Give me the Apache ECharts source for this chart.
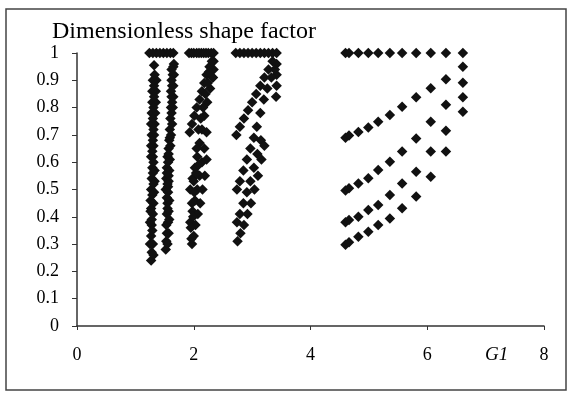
<!DOCTYPE html>
<html>
<head>
<meta charset="utf-8">
<script src="https://cdn.jsdelivr.net/npm/echarts@6/dist/echarts.min.js"></script>
<style>
html,body{margin:0;padding:0;background:#fff;}
#chart{width:572px;height:395px;}
</style>
</head>
<body>
<div id="chart"></div>
<script>
// ---- tick labels ----
const xTicks = [0, 2, 4, 6, 8];
const yTicks = [0, 0.1, 0.2, 0.3, 0.4, 0.5, 0.6, 0.7, 0.8, 0.9, 1];
const titleText = 'Dimensionless shape factor';
const xName = 'G1';

// ---- group 4 (right) : columns of x, rows of y ----
const g4x   = [4.60, 4.66, 4.82, 4.99, 5.16, 5.36, 5.57, 5.81, 6.06, 6.32, 6.61];
const g4Top = [1, 1, 1, 1, 1, 1, 1, 1, 1, 1, 1];
const g4A   = [0.690, 0.698, 0.711, 0.727, 0.748, 0.773, 0.803, 0.838, 0.871, 0.904, 0.950];
const g4B   = [0.496, 0.505, 0.522, 0.541, 0.571, 0.602, 0.639, 0.687, 0.748, 0.810, 0.891];
const g4C   = [0.380, 0.388, 0.400, 0.425, 0.443, 0.480, 0.522, 0.565, 0.639, 0.715, 0.838];
const g4D   = [0.298, 0.307, 0.327, 0.345, 0.370, 0.394, 0.431, 0.474, 0.547, 0.639, 0.785];

// ---- group 3 ----
const g3Top = [[2.72,1],[2.79,1],[2.86,1],[2.93,1],[3.00,1],[3.07,1],[3.14,1],[3.21,1],[3.28,1],[3.35,1],[3.42,1]];
const g3Right = [[3.42,0.96],[3.42,0.92],[3.42,0.88],[3.41,0.84]];
const g3A = [[2.73,0.70],[2.79,0.73],[2.86,0.76],[2.93,0.79],[3.00,0.82],[3.07,0.85],[3.14,0.88],[3.21,0.91],[3.28,0.94],[3.35,0.97]];
const g3B = [[2.74,0.50],[2.79,0.53],[2.85,0.57],[2.91,0.61],[2.97,0.65],[3.03,0.69],[3.08,0.73],[3.14,0.78],[3.20,0.83],[3.26,0.87],[3.33,0.91],[3.39,0.94]];
const g3C = [[2.74,0.38],[2.79,0.41],[2.85,0.45],[2.91,0.49],[2.97,0.53],[3.03,0.58],[3.09,0.63],[3.15,0.68]];
const g3D = [[2.75,0.31],[2.80,0.34],[2.86,0.37],[2.92,0.41],[2.98,0.45],[3.04,0.50],[3.10,0.55],[3.16,0.61],[3.21,0.66]];

// ---- group 2 ----
const g2Top = [[1.92,1],[1.96,1],[2.00,1],[2.05,1],[2.09,1],[2.13,1],[2.17,1],[2.21,1],[2.25,1],[2.30,1],[2.34,1]];
const g2Right = [[2.34,0.97],[2.34,0.94],[2.33,0.91]];
const g2A = [[1.93,0.71],[1.97,0.74],[2.01,0.77],[2.05,0.80],[2.10,0.83],[2.14,0.86],[2.18,0.89],[2.22,0.92],[2.27,0.95],[2.31,0.97]];
const g2B = [[1.94,0.50],[1.98,0.54],[2.02,0.58],[2.06,0.62],[2.10,0.67],[2.14,0.72],[2.18,0.77],[2.23,0.82],[2.28,0.87],[2.32,0.91]];
const g2C = [[1.94,0.38],[1.98,0.42],[2.02,0.46],[2.06,0.50],[2.10,0.55],[2.14,0.60],[2.18,0.65],[2.22,0.71]];
const g2D = [[1.97,0.30],[2.00,0.33],[2.03,0.37],[2.07,0.41],[2.11,0.45],[2.15,0.50],[2.19,0.55],[2.22,0.61]];
const g2E = [[1.96,0.32],[1.95,0.36],[1.99,0.40],[1.97,0.45],[2.01,0.49],[2.00,0.53],[2.04,0.56],[2.08,0.59],[2.05,0.65],[2.08,0.72],[2.12,0.76],[2.16,0.80],[2.20,0.85],[2.24,0.89],[2.26,0.93]];

// ---- group 1b ----
const g1bTop = [[1.48,1],[1.54,1],[1.60,1],[1.65,1]];
const g1bRight = [[1.66,0.96],[1.66,0.92],[1.65,0.88],[1.65,0.84],[1.64,0.80]];
const g1bA = [[1.58,0.68],[1.59,0.72],[1.60,0.76],[1.61,0.80],[1.62,0.84],[1.63,0.88],[1.64,0.92],[1.65,0.95]];
const g1bB = [[1.52,0.50],[1.53,0.54],[1.54,0.58],[1.55,0.62],[1.57,0.65],[1.59,0.69]];
const g1bC = [[1.53,0.37],[1.54,0.41],[1.55,0.45],[1.56,0.49],[1.57,0.53],[1.58,0.57],[1.59,0.61]];
const g1bD = [[1.52,0.28],[1.53,0.31],[1.54,0.34],[1.56,0.38],[1.57,0.42],[1.58,0.46],[1.56,0.51],[1.57,0.55]];
const g1bE = [[1.55,0.30],[1.57,0.34],[1.58,0.39],[1.55,0.43],[1.54,0.47],[1.55,0.52],[1.54,0.56],[1.56,0.60],[1.57,0.63],[1.60,0.66],[1.61,0.70],[1.63,0.74],[1.62,0.78],[1.63,0.82],[1.61,0.86],[1.62,0.90],[1.62,0.94]];

// ---- group 1a ----
const g1aTop = [[1.24,1],[1.30,1],[1.36,1],[1.42,1]];
const g1aA = [[1.30,0.62],[1.31,0.66],[1.32,0.70],[1.33,0.74],[1.34,0.78],[1.35,0.82],[1.35,0.86],[1.36,0.90],[1.32,0.955]];
const g1aB = [[1.26,0.46],[1.27,0.50],[1.28,0.54],[1.29,0.58],[1.27,0.62],[1.27,0.66],[1.28,0.70],[1.27,0.74],[1.28,0.78],[1.29,0.82],[1.29,0.86],[1.30,0.90]];
const g1aC = [[1.27,0.33],[1.28,0.37],[1.30,0.41],[1.31,0.45],[1.32,0.49],[1.33,0.53],[1.33,0.57]];
const g1aD = [[1.27,0.24],[1.28,0.27],[1.25,0.30],[1.25,0.38],[1.26,0.42]];
const g1aE = [[1.31,0.26],[1.30,0.30],[1.29,0.35],[1.28,0.39],[1.27,0.43],[1.29,0.48],[1.31,0.52],[1.30,0.56],[1.31,0.60],[1.29,0.64],[1.30,0.68],[1.31,0.72],[1.30,0.76],[1.31,0.80],[1.32,0.84],[1.32,0.88],[1.33,0.92]];

// ---- build ----
const toPairs = (xs, ys) => xs.map((x, i) => [x, ys[i]]);
const allSets = [
  toPairs(g4x, g4Top), toPairs(g4x, g4A), toPairs(g4x, g4B), toPairs(g4x, g4C), toPairs(g4x, g4D),
  g3Top, g3Right, g3A, g3B, g3C, g3D,
  g2Top, g2Right, g2A, g2B, g2C, g2D, g2E,
  g1bTop, g1bRight, g1bA, g1bB, g1bC, g1bD, g1bE,
  g1aTop, g1aA, g1aB, g1aC, g1aD, g1aE
];

const serif = '"Liberation Serif", "DejaVu Serif", serif';
const chart = echarts.init(document.getElementById('chart'), null, {renderer: 'canvas'});
chart.setOption({
  backgroundColor: '#ffffff',
  animation: false,
  title: {
    text: titleText,
    left: 47, top: 15,
    textStyle: {fontFamily: serif, fontSize: 24, fontWeight: 'normal', color: '#000'}
  },
  graphic: [
    {type: 'rect', shape: {x: 6, y: 9, width: 560, height: 381},
     style: {fill: 'none', stroke: '#444', lineWidth: 1.5}, z: -1},
    {type: 'text', left: 485, top: 345,
     style: {text: xName, font: 'italic 19px ' + serif, fill: '#000'}}
  ],
  grid: {left: 77, right: 28, top: 53, bottom: 69, containLabel: false},
  xAxis: {
    type: 'value', min: xTicks[0], max: xTicks[xTicks.length - 1], interval: 2,
    axisLine: {show: true, lineStyle: {color: '#333', width: 1.5}},
    axisTick: {show: true, length: 4, inside: false, lineStyle: {color: '#333'}},
    splitLine: {show: false},
    axisLabel: {margin: 20, fontFamily: serif, fontSize: 18, color: '#000',
      formatter: v => xTicks.includes(v) ? String(v) : ''}
  },
  yAxis: {
    type: 'value', min: yTicks[0], max: yTicks[yTicks.length - 1], interval: 0.1,
    axisLine: {show: true, lineStyle: {color: '#333', width: 1.5}},
    axisTick: {show: true, length: 5, inside: false, lineStyle: {color: '#333'}},
    splitLine: {show: false},
    axisLabel: {margin: 18, fontFamily: serif, fontSize: 18, color: '#000',
      formatter: v => String(Math.round(v * 10) / 10)}
  },
  series: allSets.map(d => ({
    type: 'scatter', data: d, symbol: 'diamond', symbolSize: 10.5,
    itemStyle: {color: '#111', opacity: 1}, silent: true
  }))
});
</script>
</body>
</html>
